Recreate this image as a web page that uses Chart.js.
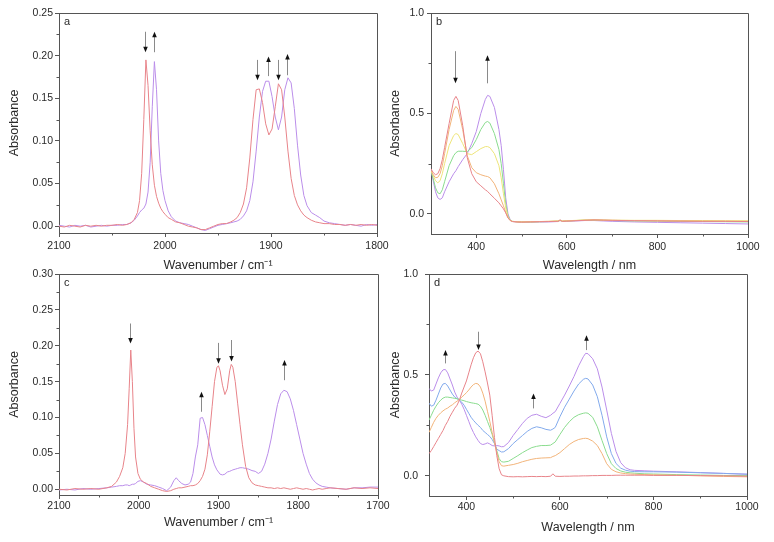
<!DOCTYPE html>
<html><head><meta charset="utf-8">
<script src="https://cdn.jsdelivr.net/npm/chart.js@4.4.1/dist/chart.umd.min.js"></script>
<style>
html,body{margin:0;padding:0;background:#fff;}
body{width:774px;height:542px;position:relative;overflow:hidden;}
canvas{position:absolute;}
</style></head><body>
<canvas id="ca" width="395" height="276" style="left:0;top:0"></canvas>
<canvas id="cb" width="387" height="276" style="left:387px;top:0"></canvas>
<canvas id="cc" width="395" height="280" style="left:0;top:262px"></canvas>
<canvas id="cd" width="387" height="280" style="left:387px;top:262px"></canvas>
<script>
// ---------- Panel a : IR, wavenumber ----------
const aX = [2100,2095,2090,2085,2080,2075,2070,2065,2060,2055,
  2050,2045,2040,2036,2032,2029,2026,2024,2022,2020,
  2018,2016,2014,2012,2010,2008,2006,2004,2002,2000,
  1997,1994,1990,1986,1982,1978,1974,1970,1966,1962,
  1958,1954,1950,1946,1942,1938,1935,1932,1929,1926,
  1923,1920,1917,1914,1911,1908,1905,1902,1899,1896,
  1893,1890,1887,1884,1881,1878,1875,1872,1869,1866,
  1862,1858,1854,1850,1845,1840,1835,1830,1825,1820,
  1815,1810,1805,1800];
const aRed = [0.000,-0.001,0.001,0.000,-0.001,0.001,0.000,0.001,0.000,0.001,
  0.001,0.002,0.001,0.002,0.004,0.008,0.016,0.030,0.062,0.125,
  0.195,0.165,0.112,0.072,0.048,0.035,0.027,0.021,0.017,0.014,
  0.010,0.008,0.005,0.004,0.002,0.000,-0.001,-0.002,-0.004,-0.004,
  -0.002,0.000,0.002,0.003,0.003,0.005,0.007,0.010,0.016,0.026,
  0.045,0.080,0.125,0.160,0.161,0.145,0.120,0.107,0.114,0.140,
  0.167,0.160,0.128,0.088,0.056,0.036,0.025,0.018,0.013,0.010,
  0.007,0.005,0.004,0.003,0.003,0.002,0.002,0.001,0.002,0.001,
  0.002,0.001,0.002,0.001];
const aPurple = [0.001,0.000,-0.001,0.001,0.000,0.001,-0.001,0.000,0.001,0.000,
  0.001,0.001,0.002,0.002,0.004,0.007,0.012,0.016,0.019,0.021,
  0.026,0.040,0.075,0.140,0.193,0.160,0.100,0.062,0.042,0.030,
  0.018,0.011,0.006,0.004,0.003,0.002,0.000,-0.002,-0.004,-0.005,
  -0.003,-0.001,0.001,0.002,0.003,0.004,0.005,0.006,0.008,0.012,
  0.018,0.030,0.052,0.088,0.128,0.158,0.170,0.170,0.152,0.128,
  0.113,0.128,0.160,0.174,0.168,0.138,0.095,0.060,0.036,0.024,
  0.016,0.013,0.010,0.006,0.004,0.003,0.002,0.001,0.002,0.001,
  0.000,0.002,0.001,0.002];
const aXTicks = [2100,2000,1900,1800];
const aXLabels = ['2100','2000','1900','1800'];
const aXMinor = [2050,1950,1850];
const aYTicks = [0,0.05,0.10,0.15,0.20,0.25];
const aYLabels = ['0.00','0.05','0.10','0.15','0.20','0.25'];
const aYMinor = [0.025,0.075,0.125,0.175,0.225];
// arrows: [x, tail y, head y]
const aArrows = [[2018.4,0.228,0.204],[2010,0.204,0.228],[1912.8,0.195,0.171],
  [1903,0.176,0.199],[1893.3,0.195,0.171],[1885,0.177,0.202]];

// ---------- Panel b : UV-vis ----------
const bX = [300,305,310,315,320,325,330,340,350,355,
  360,370,380,390,400,410,420,425,430,440,
  450,455,460,465,470,475,480,490,500,520,
  540,560,580,585,590,600,620,640,660,680,
  700,750,800,850,900,950,1000];
const bRed = [0.225,0.205,0.195,0.200,0.225,0.270,0.330,0.450,0.565,0.585,
  0.565,0.440,0.280,0.200,0.160,0.140,0.120,0.112,0.100,0.078,
  0.055,0.040,0.025,0.005,-0.020,-0.033,-0.038,-0.040,-0.041,-0.040,
  -0.039,-0.038,-0.037,-0.033,-0.037,-0.036,-0.034,-0.032,-0.030,-0.031,
  -0.032,-0.034,-0.035,-0.036,-0.037,-0.037,-0.038];
const bOrange = [0.215,0.195,0.180,0.182,0.200,0.240,0.300,0.420,0.515,0.535,
  0.520,0.420,0.290,0.230,0.205,0.195,0.188,0.186,0.180,0.150,
  0.100,0.070,0.040,0.008,-0.020,-0.033,-0.038,-0.040,-0.040,-0.039,
  -0.038,-0.037,-0.036,-0.030,-0.036,-0.035,-0.033,-0.031,-0.030,-0.031,
  -0.032,-0.033,-0.034,-0.035,-0.036,-0.036,-0.037];
const bYellow = [0.215,0.190,0.165,0.155,0.165,0.200,0.250,0.340,0.390,0.400,
  0.395,0.350,0.300,0.295,0.310,0.325,0.335,0.335,0.330,0.300,
  0.240,0.180,0.100,0.030,-0.015,-0.032,-0.037,-0.039,-0.040,-0.039,
  -0.038,-0.037,-0.035,-0.032,-0.035,-0.034,-0.032,-0.030,-0.029,-0.030,
  -0.031,-0.032,-0.032,-0.033,-0.033,-0.034,-0.034];
const bGreen = [0.215,0.175,0.130,0.105,0.100,0.120,0.160,0.240,0.290,0.305,
  0.312,0.312,0.310,0.330,0.370,0.420,0.455,0.460,0.452,0.400,
  0.320,0.250,0.150,0.050,-0.010,-0.032,-0.037,-0.039,-0.040,-0.040,
  -0.039,-0.038,-0.036,-0.033,-0.036,-0.035,-0.033,-0.031,-0.031,-0.032,
  -0.033,-0.035,-0.036,-0.037,-0.038,-0.039,-0.040];
const bPurple = [0.220,0.165,0.110,0.080,0.072,0.080,0.110,0.160,0.200,0.215,
  0.235,0.270,0.300,0.350,0.410,0.500,0.570,0.590,0.585,0.530,
  0.420,0.340,0.220,0.080,0.000,-0.030,-0.038,-0.040,-0.041,-0.041,
  -0.040,-0.040,-0.038,-0.030,-0.037,-0.036,-0.035,-0.033,-0.033,-0.035,
  -0.037,-0.040,-0.042,-0.044,-0.046,-0.048,-0.050];
const bXTicks = [400,600,800,1000];
const bXLabels = ['400','600','800','1000'];
const bXMinor = [500,700,900];
const bYTicks = [0,0.5,1.0];
const bYLabels = ['0.0','0.5','1.0'];
const bYMinor = [0.25,0.75];
const bArrows = [[354,0.81,0.65],[424,0.65,0.79]];

// ---------- Panel c : IR, wavenumber ----------
const cX = [2100,2090,2080,2070,2060,2050,2040,2034,2028,2024,
  2020,2017,2014,2012,2010,2008,2006,2004,2001,1998,
  1994,1990,1985,1980,1975,1970,1965,1960,1956,1953,
  1950,1946,1942,1938,1935,1932,1929,1926,1923,1920,
  1917,1914,1911,1908,1905,1902,1900,1898,1895,1892,
  1889,1886,1884,1882,1879,1876,1873,1870,1866,1862,
  1858,1854,1850,1846,1842,1838,1834,1830,1826,1822,
  1818,1814,1810,1806,1802,1798,1794,1790,1786,1782,
  1778,1774,1770,1765,1760,1750,1740,1730,1720,1710,
  1700];
const cRed = [0.000,-0.001,0.001,0.000,0.001,0.000,0.002,0.004,0.010,0.018,
  0.030,0.050,0.090,0.140,0.194,0.150,0.085,0.045,0.022,0.014,
  0.010,0.008,0.004,0.002,0.000,-0.002,-0.003,-0.002,0.000,0.001,
  0.002,0.002,0.003,0.004,0.005,0.005,0.006,0.008,0.012,0.018,
  0.028,0.048,0.080,0.115,0.150,0.170,0.172,0.165,0.145,0.132,
  0.140,0.165,0.174,0.170,0.150,0.120,0.090,0.062,0.032,0.016,
  0.009,0.006,0.005,0.004,0.003,0.002,0.002,0.001,0.002,0.001,
  0.002,0.001,0.000,0.001,0.002,0.001,0.000,0.001,0.000,-0.001,
  0.000,0.001,0.000,0.001,0.002,0.001,0.000,0.002,0.001,0.002,
  0.001];
const cPurple = [-0.001,0.000,-0.001,0.001,0.000,0.001,0.002,0.003,0.004,0.005,
  0.005,0.006,0.006,0.005,0.006,0.007,0.007,0.008,0.011,0.012,
  0.010,0.007,0.006,0.005,0.003,0.001,-0.002,0.003,0.012,0.016,
  0.012,0.008,0.006,0.007,0.010,0.022,0.045,0.062,0.099,0.100,
  0.090,0.075,0.060,0.045,0.034,0.027,0.024,0.021,0.020,0.021,
  0.024,0.025,0.026,0.027,0.028,0.029,0.030,0.030,0.029,0.028,
  0.026,0.025,0.022,0.025,0.035,0.050,0.070,0.095,0.118,0.133,
  0.138,0.136,0.126,0.110,0.090,0.070,0.050,0.035,0.022,0.014,
  0.009,0.006,0.004,0.003,0.002,0.001,0.000,0.002,0.002,0.003,
  0.003];
const cXTicks = [2100,2000,1900,1800,1700];
const cXLabels = ['2100','2000','1900','1800','1700'];
const cXMinor = [2050,1950,1850,1750];
const cYTicks = [0,0.05,0.10,0.15,0.20,0.25,0.30];
const cYLabels = ['0.00','0.05','0.10','0.15','0.20','0.25','0.30'];
const cYMinor = [0.025,0.075,0.125,0.175,0.225,0.275];
const cArrows = [[2010.4,0.231,0.203],[1922,0.108,0.136],[1900.6,0.204,0.175],
  [1884.3,0.208,0.178],[1818,0.152,0.180]];

// ---------- Panel d : UV-vis-NIR ----------
const dX = [320,325,330,335,340,345,350,355,360,365,
  370,375,380,385,390,395,400,405,410,415,
  420,425,430,435,440,445,450,455,460,465,
  470,475,480,490,500,510,520,530,540,550,
  560,570,580,585,590,600,610,620,630,640,
  650,655,660,670,680,690,700,710,720,730,
  740,750,760,780,800,850,900,950,1000];
const dRed = [0.110,0.125,0.145,0.165,0.185,0.205,0.225,0.250,0.270,0.295,
  0.315,0.335,0.350,0.375,0.410,0.440,0.470,0.510,0.550,0.585,
  0.610,0.618,0.605,0.565,0.515,0.460,0.400,0.300,0.190,0.100,
  0.035,0.005,0.000,-0.004,-0.005,-0.004,-0.005,-0.004,-0.003,-0.004,
  -0.003,-0.004,-0.002,0.010,-0.002,-0.003,-0.002,-0.002,-0.001,-0.001,
  0.000,0.000,0.000,0.001,0.001,0.002,0.002,0.002,0.003,0.003,
  0.003,0.003,0.003,0.003,0.002,0.002,0.001,0.000,-0.002];
const dOrange = [0.215,0.240,0.265,0.285,0.300,0.312,0.322,0.330,0.336,0.345,
  0.352,0.362,0.370,0.378,0.390,0.400,0.412,0.425,0.440,0.452,
  0.458,0.455,0.440,0.410,0.370,0.320,0.270,0.215,0.165,0.115,
  0.070,0.050,0.048,0.052,0.056,0.062,0.070,0.076,0.082,0.086,
  0.088,0.089,0.090,0.096,0.100,0.115,0.135,0.155,0.170,0.180,
  0.185,0.186,0.184,0.172,0.150,0.110,0.060,0.032,0.020,0.014,
  0.011,0.009,0.008,0.006,0.005,0.003,0.000,-0.003,-0.005];
const dGreen = [0.276,0.300,0.325,0.345,0.362,0.375,0.385,0.390,0.390,0.388,
  0.386,0.384,0.382,0.378,0.375,0.372,0.368,0.365,0.362,0.360,
  0.358,0.355,0.345,0.326,0.300,0.270,0.240,0.205,0.165,0.125,
  0.085,0.070,0.068,0.072,0.086,0.100,0.115,0.128,0.140,0.146,
  0.150,0.150,0.152,0.160,0.168,0.205,0.240,0.268,0.290,0.303,
  0.310,0.312,0.310,0.290,0.243,0.175,0.110,0.060,0.036,0.024,
  0.018,0.015,0.013,0.010,0.009,0.006,0.004,0.002,0.001];
const dBlue = [0.360,0.345,0.350,0.375,0.405,0.435,0.455,0.458,0.445,0.425,
  0.405,0.390,0.382,0.375,0.365,0.350,0.330,0.310,0.290,0.275,
  0.262,0.250,0.240,0.225,0.215,0.205,0.195,0.180,0.160,0.132,
  0.125,0.118,0.119,0.135,0.160,0.180,0.200,0.220,0.235,0.243,
  0.238,0.230,0.226,0.232,0.240,0.293,0.340,0.380,0.420,0.455,
  0.478,0.483,0.480,0.450,0.392,0.300,0.193,0.110,0.061,0.038,
  0.028,0.023,0.021,0.020,0.020,0.018,0.015,0.012,0.008];
const dPurple = [0.433,0.420,0.425,0.455,0.485,0.510,0.525,0.527,0.510,0.480,
  0.450,0.415,0.390,0.375,0.355,0.330,0.300,0.270,0.240,0.215,
  0.193,0.175,0.160,0.155,0.158,0.163,0.158,0.150,0.148,0.150,
  0.148,0.144,0.145,0.165,0.200,0.230,0.260,0.285,0.300,0.305,
  0.295,0.288,0.300,0.310,0.318,0.359,0.400,0.445,0.492,0.545,
  0.590,0.607,0.605,0.580,0.530,0.440,0.326,0.210,0.120,0.065,
  0.040,0.030,0.027,0.025,0.023,0.020,0.016,0.012,0.008];
const dXTicks = [400,600,800,1000];
const dXLabels = ['400','600','800','1000'];
const dXMinor = [500,700,900];
const dYTicks = [0,0.5,1.0];
const dYLabels = ['0.0','0.5','1.0'];
const dYMinor = [0.25,0.75];
const dArrows = [[355,0.557,0.623],[425,0.714,0.623],[543,0.334,0.408],[656,0.623,0.697]];

// ---------- styling ----------
const COL = {red:'#e8848a', orange:'#f2b47a', yellow:'#eee57a', green:'#8adc8e', blue:'#82aaec', purple:'#bb8eea'};
const FONT = "'Liberation Sans', Arial, sans-serif";
const TXT = '#2a2a2a', AXIS = '#555';

function makePanel(id, c) {
  const datasets = c.series.map(s => ({
    data: c.x.map((xv, i) => ({x: xv, y: s.y[i]})),
    borderColor: s.color, borderWidth: 1, pointRadius: 0, tension: 0, fill: false
  }));
  const deco = {
    id: 'deco' + id,
    afterDatasetsDraw(chart) {
      const ctx = chart.ctx, a = chart.chartArea, xs = chart.scales.x, ys = chart.scales.y;
      const al = v => Math.round(v) + 0.5;
      ctx.save();
      ctx.strokeStyle = AXIS; ctx.lineWidth = 1;
      ctx.beginPath();
      ctx.moveTo(al(a.left), al(a.top)); ctx.lineTo(al(a.right), al(a.top)); ctx.lineTo(al(a.right), al(a.bottom));
      ctx.stroke();
      ctx.beginPath();
      c.xMinor.forEach(v => { const p = al(xs.getPixelForValue(v)); ctx.moveTo(p, a.bottom); ctx.lineTo(p, a.bottom + 2.5); });
      c.yMinor.forEach(v => { const p = al(ys.getPixelForValue(v)); ctx.moveTo(a.left - 2.5, p); ctx.lineTo(a.left, p); });
      ctx.stroke();
      c.arrows.forEach(([xv, y0, y1]) => {
        const px = al(xs.getPixelForValue(xv)), p0 = ys.getPixelForValue(y0), p1 = ys.getPixelForValue(y1);
        const dir = Math.sign(p1 - p0);
        ctx.strokeStyle = '#8a8a8a'; ctx.lineWidth = 1;
        ctx.beginPath(); ctx.moveTo(px, p0); ctx.lineTo(px, p1 - dir * 4); ctx.stroke();
        ctx.fillStyle = '#111';
        ctx.beginPath(); ctx.moveTo(px, p1); ctx.lineTo(px - 2.3, p1 - dir * 5.5); ctx.lineTo(px + 2.3, p1 - dir * 5.5); ctx.closePath(); ctx.fill();
      });
      ctx.fillStyle = TXT; ctx.font = '11px ' + FONT; ctx.textBaseline = 'middle'; ctx.textAlign = 'left';
      ctx.fillText(c.letter, a.left + 5, a.top + 9);
      ctx.restore();
    }
  };
  return new Chart(document.getElementById(id), {
    type: 'line',
    data: {datasets},
    plugins: [deco],
    options: {
      responsive: false, animation: false, events: [],
      layout: {padding: {left: 0, top: c.top, right: c.right, bottom: 0}},
      plugins: {legend: {display: false}, tooltip: {enabled: false}},
      scales: {
        x: {
          type: 'linear', reverse: c.reverse, min: c.xMin, max: c.xMax,
          afterBuildTicks: s => { s.ticks = c.xTicks.map(v => ({value: v})); },
          afterFit: s => { s.height = c.xH; s.paddingLeft = 0; s.paddingRight = 0; },
          ticks: {callback: (v, i) => c.xLabels[i], font: {family: FONT, size: 10.5}, color: TXT,
            padding: c.xPad, maxRotation: 0, autoSkip: false},
          grid: {drawOnChartArea: false, drawTicks: true, tickLength: 4, tickColor: AXIS},
          border: {display: true, color: AXIS, width: 1},
          title: {display: true, text: c.xTitle, font: {family: FONT, size: 12.5}, color: TXT,
            padding: {top: 0, bottom: c.xTitlePad}}
        },
        y: {
          type: 'linear', min: c.yMin, max: c.yMax,
          afterBuildTicks: s => { s.ticks = c.yTicks.map(v => ({value: v})); },
          afterFit: s => { s.width = c.yW; s.paddingTop = 0; s.paddingBottom = 0; },
          ticks: {callback: (v, i) => c.yLabels[i], font: {family: FONT, size: 10.5}, color: TXT, padding: c.yPad},
          grid: {drawOnChartArea: false, drawTicks: true, tickLength: 4, tickColor: AXIS},
          border: {display: true, color: AXIS, width: 1},
          title: {display: true, text: 'Absorbance', font: {family: FONT, size: 12.5}, color: TXT,
            padding: {top: c.yTitlePad, bottom: 0}}
        }
      }
    }
  });
}

makePanel('ca', {letter: 'a', x: aX, reverse: true, xMin: 1800, xMax: 2100, yMin: -0.008, yMax: 0.25,
  series: [{y: aRed, color: COL.red}, {y: aPurple, color: COL.purple}],
  xTicks: aXTicks, xLabels: aXLabels, xMinor: aXMinor, yTicks: aYTicks, yLabels: aYLabels, yMinor: aYMinor,
  arrows: aArrows, xTitle: 'Wavenumber / cm\u207B\u00B9',
  top: 13, right: 18, yW: 59, xH: 43, xPad: 3, yPad: 2, xTitlePad: 3, yTitlePad: 7.5});

makePanel('cb', {letter: 'b', x: bX, reverse: false, xMin: 300, xMax: 1000, yMin: -0.1, yMax: 1.0,
  series: [{y: bRed, color: COL.red}, {y: bOrange, color: COL.orange}, {y: bYellow, color: COL.yellow},
    {y: bGreen, color: COL.green}, {y: bPurple, color: COL.purple}],
  xTicks: bXTicks, xLabels: bXLabels, xMinor: bXMinor, yTicks: bYTicks, yLabels: bYLabels, yMinor: bYMinor,
  arrows: bArrows, xTitle: 'Wavelength / nm',
  top: 13, right: 26, yW: 44, xH: 42, xPad: 3, yPad: 3, xTitlePad: 3, yTitlePad: 1.5});

makePanel('cc', {letter: 'c', x: cX, reverse: true, xMin: 1700, xMax: 2100, yMin: -0.008, yMax: 0.30,
  series: [{y: cRed, color: COL.red}, {y: cPurple, color: COL.purple}],
  xTicks: cXTicks, xLabels: cXLabels, xMinor: cXMinor, yTicks: cYTicks, yLabels: cYLabels, yMinor: cYMinor,
  arrows: cArrows, xTitle: 'Wavenumber / cm\u207B\u00B9',
  top: 12, right: 17, yW: 59, xH: 47, xPad: 1, yPad: 2, xTitlePad: 12, yTitlePad: 7.5});

makePanel('cd', {letter: 'd', x: dX, reverse: false, xMin: 320, xMax: 1000, yMin: -0.1, yMax: 1.0,
  series: [{y: dRed, color: COL.red}, {y: dOrange, color: COL.orange}, {y: dGreen, color: COL.green},
    {y: dBlue, color: COL.blue}, {y: dPurple, color: COL.purple}],
  xTicks: dXTicks, xLabels: dXLabels, xMinor: dXMinor, yTicks: dYTicks, yLabels: dYLabels, yMinor: dYMinor,
  arrows: dArrows, xTitle: 'Wavelength / nm',
  top: 12, right: 27, yW: 42, xH: 46, xPad: 1, yPad: 7, xTitlePad: 7, yTitlePad: 1.5});
</script>
</body></html>
